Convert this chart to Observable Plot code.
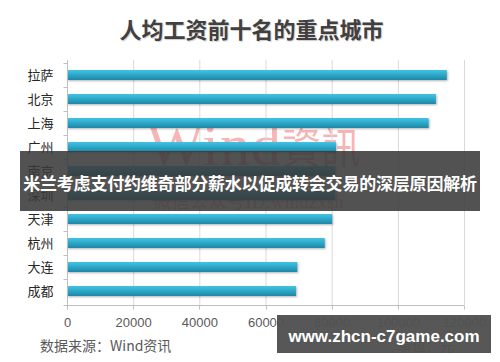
<!DOCTYPE html>
<html><head><meta charset="utf-8">
<script src="https://cdn.jsdelivr.net/npm/d3@7"></script>
<script src="https://cdn.jsdelivr.net/npm/@observablehq/plot@0.6"></script>
<style>
body{margin:0;background:#fff;}
#wrap{position:relative;width:500px;height:362px;overflow:hidden;font-family:"Noto Sans CJK SC","Noto Sans",sans-serif;}
#wrap svg{position:absolute;left:0;top:0;}
.abs{position:absolute;white-space:nowrap;line-height:1;}
#title{left:0;width:503px;top:17px;text-align:center;font-size:22px;font-weight:bold;color:#404040;text-shadow:1px 1px 1px rgba(0,0,0,0.2);}
#wm1{left:147px;top:115px;font-family:"Liberation Serif",serif;font-size:60px;letter-spacing:1px;color:rgba(235,80,80,0.42);}
#wm1 span{font-family:"Noto Sans CJK TC","Noto Sans CJK SC",sans-serif;font-size:42px;display:inline-block;transform:scaleX(0.92);transform-origin:left;vertical-align:2px;}
#wm2{left:153px;top:193px;font-family:"Liberation Serif","Noto Sans CJK SC",serif;font-size:18px;letter-spacing:0.5px;color:rgba(235,80,80,0.45);}
#banner{left:20px;top:151px;width:460px;height:60px;background:rgba(58,58,58,0.88);}
#bannerText{left:0;width:500px;top:174px;text-align:center;font-size:17px;font-weight:bold;color:#fff;letter-spacing:-0.2px;}
#source{left:40px;top:338px;font-size:14px;color:#595959;}
#unit{left:398px;top:338px;font-size:14px;color:#595959;}
#site{left:277px;top:315px;width:214px;height:38px;background:rgba(80,80,80,0.96);}
#siteText{left:277px;width:214px;top:328px;text-align:center;font-family:"Liberation Sans",sans-serif;font-size:17px;font-weight:bold;color:#fff;}
</style></head><body><div id="wrap"></div>
<script>
const cities = ["拉萨","北京","上海","广州","南京","深圳","天津","杭州","大连","成都"];
const wages = [114800,111500,109300,81300,81100,81000,80100,77900,69600,69200];
const xTicks = [0,20000,40000,60000,80000,100000,120000];
const titleText = "人均工资前十名的重点城市";
const sourceText = "数据来源：Wind资讯";
const unitText = "单位：元";
const bannerText = "米兰考虑支付约维奇部分薪水以促成转会交易的深层原因解析";
const siteText = "www.zhcn-c7game.com";
const wmLatin = "Wind";
const wmCjk = "資訊";
const wmText2 = "微信公众号ID:windzxsh";

const data = cities.map((c, i) => ({city: c, wage: wages[i]}));

function frameTicks(index, scales, values, dims) {
  const {x, y} = scales;
  const g = d3.create("svg:g").attr("stroke", "#bfbfbf").attr("stroke-width", 1);
  const x0 = Math.round(x(0)) + 0.5;
  const yb = dims.height - dims.marginBottom + 0.5;
  g.append("line").attr("x1", x0).attr("x2", x0).attr("y1", dims.marginTop).attr("y2", yb + 4);
  g.append("line").attr("x1", x0 - 4).attr("x2", x(xTicks[xTicks.length - 1])).attr("y1", yb).attr("y2", yb);
  const half = (y.step() - y.bandwidth()) / 2;
  for (const c of cities) {
    const yy = Math.round(y(c) - half) + 0.5;
    g.append("line").attr("x1", x0 - 4).attr("x2", x0).attr("y1", yy).attr("y2", yy);
  }
  for (const t of xTicks) {
    const xx = Math.round(x(t)) + 0.5;
    g.append("line").attr("x1", xx).attr("x2", xx).attr("y1", yb).attr("y2", yb + 4);
  }
  return g.node();
}

const chart = Plot.plot({
  width: 500, height: 362,
  marginLeft: 67, marginRight: 36, marginTop: 60, marginBottom: 57,
  style: {background: "transparent", fontFamily: "'Liberation Sans', sans-serif"},
  x: {domain: [0, 120000], ticks: xTicks},
  y: {domain: cities, paddingInner: 0.6, paddingOuter: 0.3},
  marks: [
    Plot.gridX(xTicks, {stroke: "#d9d9d9", strokeOpacity: 1}),
    Plot.barX(data, {x: "wage", y: "city", fill: "url(#barGrad)"}),
    frameTicks,
    Plot.axisX({ticks: xTicks, tickSize: 0, tickPadding: 12, fontSize: 13, fill: "#595959", tickFormat: d => String(d), label: null}),
    Plot.axisY({tickSize: 0, tickPadding: 14, fontSize: 13, fill: "#262626", fontFamily: "'Noto Sans CJK SC', sans-serif", label: null})
  ]
});

const svg = d3.select(chart);
const defs = svg.insert("defs", ":first-child");
const grad = defs.append("linearGradient").attr("id", "barGrad").attr("x1", 0).attr("y1", 0).attr("x2", 0).attr("y2", 1);
grad.append("stop").attr("offset", "0%").attr("stop-color", "#45c3e2");
grad.append("stop").attr("offset", "45%").attr("stop-color", "#2eaacb");
grad.append("stop").attr("offset", "100%").attr("stop-color", "#1d86a6");
svg.selectAll("g[aria-label='bar']").style("filter", "drop-shadow(1px 1.5px 1px rgba(0,0,0,0.3))");

const wrap = document.getElementById("wrap");
function addDiv(id, text) {
  const d = document.createElement("div");
  d.id = id; d.className = "abs"; if (text) d.textContent = text;
  wrap.appendChild(d);
  return d;
}
// watermark sits behind the chart
const wm1 = addDiv("wm1", wmLatin);
const cj = document.createElement("span"); cj.textContent = wmCjk; wm1.appendChild(cj);
addDiv("wm2", wmText2);
wrap.appendChild(chart);
addDiv("title", titleText);
addDiv("source", sourceText);
addDiv("unit", unitText);
addDiv("banner", "");
addDiv("bannerText", bannerText);
addDiv("site", "");
addDiv("siteText", siteText);
</script></body></html>
